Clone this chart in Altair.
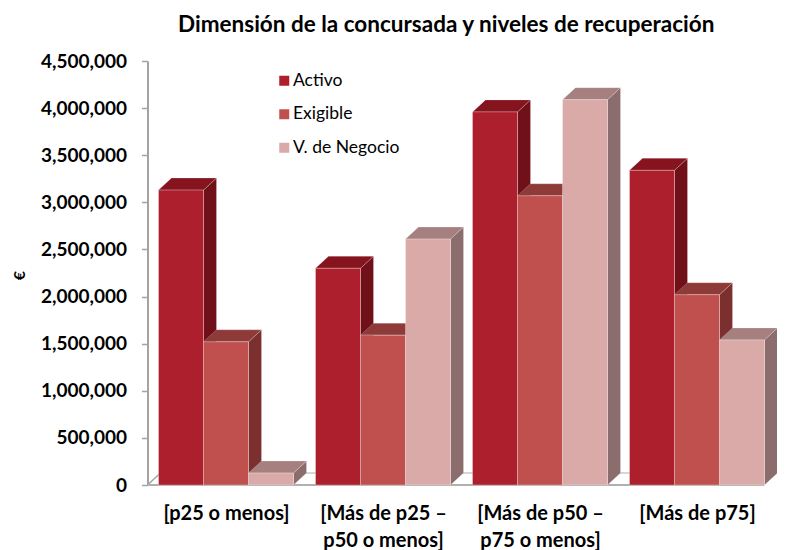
import json
import altair as alt
import pandas as pd

title = "Dimensión de la concursada y niveles de recuperación"
groups = ["[p25 o menos]", "[Más de p25 –\np50 o menos]", "[Más de p50 –\np75 o menos]", "[Más de p75]"]
series = ["Activo", "Exigible", "V. de Negocio"]
activo = [3130000, 2300000, 3960000, 3340000]
exigible = [1520000, 1590000, 3070000, 2020000]
negocio = [127000, 2610000, 4090000, 1540000]
y_ticks = [0, 500000, 1000000, 1500000, 2000000, 2500000, 3000000, 3500000, 4000000, 4500000]

front_colors = ["#AE1F2D", "#C0504D", "#D9AAA8"]
side_colors = ["#70111A", "#7B302F", "#8A6D6C"]
top_colors = ["#85141F", "#8D3A39", "#A5807F"]

W, H = 629.5, 424
PITCH = 157
bar_w = 45 / PITCH
gap = 22 / PITCH
dx = 13 / PITCH
dy = 12 / H * 4500000
x_max = W / PITCH

fronts, sides, tops = [], [], []
for s, (name, vals) in enumerate(zip(series, [activo, exigible, negocio])):
    for g, v in enumerate(vals):
        x0 = g + gap / 2 + s * bar_w
        x1 = x0 + bar_w
        key = f"{g}-{s}"
        fronts.append(dict(series=name, x=x0, x2=x1, y=v, y2=0))
        sides.append(dict(series=name, key=key, x=x1, y=v, y2=0))
        sides.append(dict(series=name, key=key, x=x1 + dx, y=v + dy, y2=dy))
        tops.append(dict(series=name, key=key, x=x0, y=v, y2=v))
        tops.append(dict(series=name, key=key, x=x0 + dx, y=v + dy, y2=v))
        tops.append(dict(series=name, key=key, x=x1, y=v + dy, y2=v))
        tops.append(dict(series=name, key=key, x=x1 + dx, y=v + dy, y2=v + dy))

fronts, sides, tops = map(pd.DataFrame, (fronts, sides, tops))

FONT = "Lato"
GRAY = "#A3A3A3"
x_scale = alt.Scale(domain=[0, x_max], nice=False, zero=False)
y_scale = alt.Scale(domain=[0, 4500000], nice=False)
label_expr = f"split({json.dumps(groups)}[floor(datum.value)], '\\n')"

X = alt.X(
    "x:Q", scale=x_scale, title=None,
    axis=alt.Axis(
        values=[0.5, 1.5, 2.5, 3.5], ticks=False, domain=False, grid=False,
        labelExpr=label_expr, labelFont=FONT, labelFontWeight="bold", labelFontSize=20,
        labelColor="#000000", labelPadding=28, labelLineHeight=27, labelAngle=0,
        labelFlush=False, labelOverlap=False, labelBaseline="middle",
    ),
)
Y = alt.Y(
    "y:Q", scale=y_scale, title="€", stack=False,
    axis=alt.Axis(
        values=y_ticks, labelExpr="format(datum.value, ',')", grid=False,
        domainColor=GRAY, domainWidth=2,
        tickColor=GRAY, tickWidth=1.5, tickSize=6, labelPadding=15,
        labelFont=FONT, labelFontWeight="bold", labelFontSize=19, labelColor="#000000",
        titleFont=FONT, titleFontWeight="bold", titleFontSize=16, titleColor="#000000",
        titleX=-120, titleY=214,
    ),
)

floor_back = alt.Chart(pd.DataFrame({"x": [dx, x_max], "y": [dy, dy]})).mark_line(
    color="#C8C8C8", strokeWidth=1.5
).encode(x=X, y=Y)
floor_diag = alt.Chart(pd.DataFrame({"x": [0, dx], "y": [0, dy]})).mark_line(
    color=GRAY, strokeWidth=1.5
).encode(x=X, y=Y)
floor_front = alt.Chart(pd.DataFrame({"x": [0, 4.0 - gap / 2], "y": [0, 0]})).mark_line(
    color="#B0B0B0", strokeWidth=2
).encode(x=X, y=Y)

side_layer = alt.Chart(sides).mark_area(
    stroke="#FFFFFF", strokeOpacity=0.25, strokeWidth=0.8
).encode(
    x=X, y=Y, y2="y2:Q", detail="key:N",
    color=alt.Color("series:N", scale=alt.Scale(domain=series, range=side_colors), legend=None),
)
top_layer = alt.Chart(tops).mark_area(
    stroke="#FFFFFF", strokeOpacity=0.25, strokeWidth=0.8
).encode(
    x=X, y=Y, y2="y2:Q", detail="key:N",
    color=alt.Color("series:N", scale=alt.Scale(domain=series, range=top_colors), legend=None),
)
front_layer = alt.Chart(fronts).mark_bar(
    stroke="#FFFFFF", strokeOpacity=0.3, strokeWidth=1
).encode(
    x=X, x2="x2:Q", y=Y, y2="y2:Q",
    color=alt.Color(
        "series:N", scale=alt.Scale(domain=series, range=front_colors),
        legend=alt.Legend(
            title=None, orient="none", legendX=128, legendY=11, symbolType="square",
            symbolSize=100, symbolStrokeWidth=0, labelFont=FONT, labelFontSize=17.5,
            labelColor="#000000", rowPadding=14.5, labelOffset=0, labelLimit=200,
        ),
    ),
)

chart = alt.layer(floor_back, floor_diag, floor_front, side_layer, top_layer, front_layer).resolve_scale(
    color="independent"
).properties(
    width=W, height=H,
    title=alt.TitleParams(
        title, font=FONT, fontSize=22.5, fontWeight="bold", color="#000000",
        anchor="middle", dx=-16, offset=16,
    ),
    autosize=alt.AutoSizeParams(type="none"),
    padding={"left": 139.5, "top": 53, "right": 0, "bottom": 65},
    background="#FFFFFF",
).configure_view(stroke=None)

chart.save("out.html", embed_options={"renderer": "svg", "actions": False})
